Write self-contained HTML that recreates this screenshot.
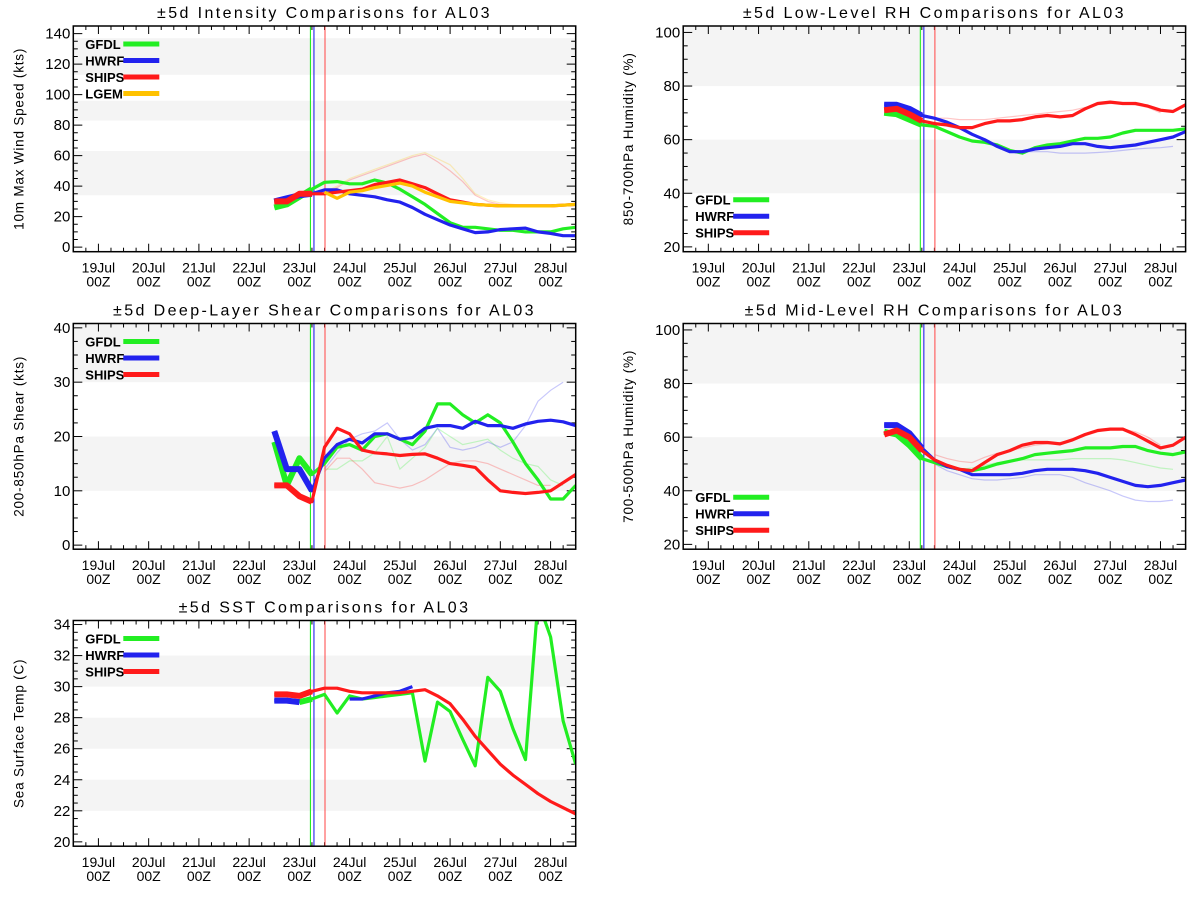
<!DOCTYPE html>
<html><head><meta charset="utf-8">
<style>
html,body{margin:0;padding:0;background:#fff;}
svg{display:block;font-family:"Liberation Sans","DejaVu Sans",sans-serif;}
</style></head>
<body>
<svg id="chart" width="1200" height="900" viewBox="0 0 1200 900" xmlns="http://www.w3.org/2000/svg"></svg>
<script>
// ---- shared data ----
const times = [3.5,3.75,4.0,4.25,4.5,4.75,5.0,5.25,5.5,5.75,6.0,6.25,6.5,6.75,7.0,7.25,7.5,7.75,8.0,8.25,8.5,8.75,9.0,9.25,9.5];
const dayLabels = ["19Jul","20Jul","21Jul","22Jul","23Jul","24Jul","25Jul","26Jul","27Jul","28Jul"];
const faintTimes = [4.5,4.75,5.0,5.25,5.5,5.75,6.0,6.25,6.5,6.75,7.0,7.25,7.5,7.75,8.0,8.25,8.5,8.75,9.0,9.25];
const markerGreen = 4.22, markerBlue = 4.29, markerRed = 4.51;

// ---- intensity ----
const intTicks = [0,20,40,60,80,100,120,140];
const intGFDL = [26,28,33,38,42.5,43,41.5,41.5,44,42,38,33,28,22,16,13,13,12,11,11,10,10,10,12,13];
const intHWRF = [30,32,34,35,37.5,37.5,35,34,33,31,29.5,26,21.5,18,14.5,12,9.5,10,11.5,12,12.5,10,9,7.5,7.5];
const intSHIPS = [30,30,35,35,35,36,37,38,41,42.5,44,41.5,39,35,31,29.5,28,27.5,27,27,27,27,27,27.5,28];
const intLGEM = [null,null,null,null,36,32,36,37,39,40.5,42,40,36,33,30,29,28,27.5,27,27,27,27,27,27.5,28];
const intFaintLGEM = [36,40,45,48,51,54,57,60,62,58,54,45,35,31,29,28,27,27,27,27];
const intFaintSHIPS = [35,39,44,47,50,53,56,59,61,56,50,43,34,30,28,27.5,27,27,27,27];

// ---- low-level RH ----
const rhTicks = [20,40,60,80,100];
const lowGFDL = [70,69.5,67.5,65.5,65,63,61,59.5,59,58,56,55,57,58,58.5,59.5,60.5,60.5,61,62.5,63.5,63.5,63.5,63.5,64];
const lowHWRF = [73,73,71.5,69,68,66.5,64.5,62,60,57.5,55.5,55.5,56.5,57,57.5,58.5,58.5,57.5,57,57.5,58,59,60,61,63];
const lowSHIPS = [71,71.5,69.5,67,66,65.5,64.5,64.5,66,67,67,67.5,68.5,69,68.5,69,71.5,73.5,74,73.5,73.5,72.5,71,70.5,73];
const lowFaintSHIPS = [68,68,67.5,67.5,67.5,68,68.5,69,69.5,70,70.5,71,72,73,73.5,73.5,73,72,70,null];
const lowFaintHWRF = [66,65,64,62,60,57.5,55.5,55.5,55.5,55.5,55,55,55,55.2,55.5,56,56.5,56.8,57,57.5];

// ---- shear ----
const shrTicks = [0,10,20,30,40];
const shrGFDL = [19,11,16,13,15,18,18.5,17.5,20,20.5,19.5,18.5,21,26,26,24,22.5,24,22.5,19,15,12,8.5,8.5,11];
const shrHWRF = [21,14,14,10,16,18.5,19.5,18.8,20.5,20.5,19.5,19.8,21.5,22,22,21.5,22.8,22,22,21.5,22.3,22.8,23,22.7,22];
const shrSHIPS = [11,11,9,8,18,21.5,20.5,17.5,17,16.8,16.5,16.7,16.8,16,15,14.7,14.3,12,10,9.7,9.5,9.7,10,11.5,13];
const shrFaintHWRF = [14,17,19.5,20.5,21,22.5,19.5,17.5,18.5,21.5,18,17.5,18,19,18,19,22,26.5,28.5,30];
const shrFaintGFDL = [14,14,15.5,15.5,17,20,14,16,18,21.5,20,18.5,19,19.5,17.5,16,15,14.5,12,11];
const shrFaintSHIPS = [13.5,16,16,14,11.5,11,10.5,11,12,13.5,15,15.5,15.5,15,14,13,12,11,11,null];

// ---- mid-level RH ----
const midGFDL = [62,61,57,52,50.5,49,48,47.5,48.5,50,51,52,53.5,54,54.5,55,56,56,56,56.5,56.5,55,54,53.5,54.5];
const midHWRF = [64.5,64.5,61.5,56,51.5,49,48,46,46,46,46,46.5,47.5,48,48,48,47.5,46.5,45,43.5,42,41.5,42,43,44];
const midSHIPS = [61,62.5,60,55,51.5,49.5,48,47.5,50.5,53.5,55,57,58,58,57.5,59,61,62.5,63,63,61,58.5,56,57,60];
const midFaintSHIPS = [53.5,52,51,50.5,52.5,54,55,56,57,57.5,58,59,60.5,62,63,63,62,60,57,null];
const midFaintGFDL = [51,49,48,48.5,49.5,50.5,51,51.5,51.5,51.5,51.5,52,52,52,52,51.5,50.5,49.5,48.5,48];
const midFaintHWRF = [50,47.5,46,44.5,44,44,44.5,45,46,46,46,45,43,41.5,40,38,36.5,36,36,36.5];

// ---- SST ----
const sstTicks = [20,22,24,26,28,30,32,34];
const sstGFDL = [null,null,29.0,29.2,29.5,28.3,29.4,29.2,29.3,29.4,29.5,29.6,25.2,29.0,28.4,26.6,24.9,30.6,29.7,27.3,25.3,35.5,33.2,27.8,25.0];
const sstHWRF = [29.1,29.1,29.0,null,null,null,29.2,29.2,29.4,29.6,29.7,30.0,null,null,null,null,null,null,null,null,null,null,null,null,null];
const sstSHIPS = [29.5,29.5,29.4,29.7,29.9,29.9,29.7,29.6,29.6,29.6,29.6,29.7,29.8,29.4,28.9,27.9,26.8,25.9,25.0,24.3,23.7,23.1,22.6,22.2,21.8];

const GREEN="#22ee22", BLUE="#2222ee", RED="#ff1a1a", ORANGE="#ffc200";
const NS="http://www.w3.org/2000/svg";
const svg=document.getElementById('chart');
function mk(tag,attrs,parent){const e=document.createElementNS(NS,tag);for(const k in attrs)e.setAttribute(k,attrs[k]);(parent||svg).appendChild(e);return e;}

const panels=[
 {id:'intensity',x:73.3,y:26,title:'±5d Intensity Comparisons for AL03',ylabel:'10m Max Wind Speed (kts)',ymin:-3,ymax:145,ticks:intTicks,minor:5,bands:[[34,63],[83,96],[113,137]],
  legendPos:'top',series:[['GFDL',GREEN,intGFDL],['HWRF',BLUE,intHWRF],['SHIPS',RED,intSHIPS],['LGEM',ORANGE,intLGEM]],
  faint:[[ORANGE,intFaintLGEM],[RED,intFaintSHIPS]]},
 {id:'low-rh',x:683.2,y:26,title:'±5d Low-Level RH Comparisons for AL03',ylabel:'850-700hPa Humidity (%)',ymin:18.2,ymax:102.4,ticks:rhTicks,minor:5,bands:[[40,60],[80,110]],
  legendPos:'bottom',series:[['GFDL',GREEN,lowGFDL],['HWRF',BLUE,lowHWRF],['SHIPS',RED,lowSHIPS]],
  faint:[[RED,lowFaintSHIPS],[BLUE,lowFaintHWRF]]},
 {id:'shear',x:73.3,y:323.5,title:'±5d Deep-Layer Shear Comparisons for AL03',ylabel:'200-850hPa Shear (kts)',ymin:-0.75,ymax:40.8,ticks:shrTicks,minor:2.5,bands:[[10,20],[30,50]],
  legendPos:'top',series:[['GFDL',GREEN,shrGFDL],['HWRF',BLUE,shrHWRF],['SHIPS',RED,shrSHIPS]],
  faint:[[BLUE,shrFaintHWRF],[GREEN,shrFaintGFDL],[RED,shrFaintSHIPS]]},
 {id:'mid-rh',x:683.2,y:323.5,title:'±5d Mid-Level RH Comparisons for AL03',ylabel:'700-500hPa Humidity (%)',ymin:18.2,ymax:102.4,ticks:rhTicks,minor:5,bands:[[40,60],[80,110]],
  legendPos:'bottom',series:[['GFDL',GREEN,midGFDL],['HWRF',BLUE,midHWRF],['SHIPS',RED,midSHIPS]],
  faint:[[RED,midFaintSHIPS],[GREEN,midFaintGFDL],[BLUE,midFaintHWRF]]},
 {id:'sst',x:73.3,y:620.5,title:'±5d SST Comparisons for AL03',ylabel:'Sea Surface Temp (C)',ymin:19.72,ymax:34.26,ticks:sstTicks,minor:0.5,bands:[[22,24],[26,28],[30,32]],
  legendPos:'top',series:[['GFDL',GREEN,sstGFDL],['HWRF',BLUE,sstHWRF],['SHIPS',RED,sstSHIPS]],faint:[]}
];
const W=502.4,H=225.7,TMIN=-0.5,TMAX=9.5;

function pathFrom(ts,vals,xs,ys,maxT){
  let d='',pen=false;
  for(let i=0;i<ts.length;i++){
    const v=vals[i];
    if(v===null||v===undefined||(maxT!==undefined&&ts[i]>maxT)){pen=false;continue;}
    d+=(pen?'L':'M')+xs(ts[i]).toFixed(1)+','+ys(v).toFixed(1);pen=true;
  }
  return d;
}

panels.forEach((p,pi)=>{
  const g=mk('g',{});
  
  
  const xs=t=>p.x+(t-TMIN)/(TMAX-TMIN)*W;
  const ys=v=>p.y+H-(v-p.ymin)/(p.ymax-p.ymin)*H;
  const clipId='clip'+pi;
  const cp=mk('clipPath',{id:clipId},g);
  mk('rect',{x:p.x,y:p.y,width:W,height:H},cp);
  p.bands.forEach(b=>{
    const y1=ys(Math.min(b[1],p.ymax)),y2=ys(Math.max(b[0],p.ymin));
    const r=mk('rect',{x:p.x,y:y1,width:W,height:y2-y1,fill:'#f4f4f4'},g);
    
    
  });
  const tt=mk('text',{x:p.x+W/2,y:p.y-8,'text-anchor':'middle','font-size':'16',fill:'#000','letter-spacing':'2.4'},g);
  tt.textContent=p.title;
  
  
  const lx=p.x-50,ly=p.y+H/2;
  const yl=mk('text',{x:lx,y:ly,'text-anchor':'middle','font-size':'13.5',transform:`rotate(-90 ${lx} ${ly})`,'letter-spacing':'0.8'},g);
  yl.textContent=p.ylabel;
  
  
  const step=p.minor;
  for(let v=Math.ceil(p.ymin/step)*step; v<=p.ymax+1e-6; v+=step){
    const major=p.ticks.some(t=>Math.abs(t-v)<1e-6);
    const L=major?9:4.5, y=ys(v);
    mk('line',{x1:p.x,x2:p.x+L,y1:y,y2:y,stroke:'#000','stroke-width':1},g);
    mk('line',{x1:p.x+W,x2:p.x+W-L,y1:y,y2:y,stroke:'#000','stroke-width':1},g);
  }
  p.ticks.forEach(v=>{
    const t=mk('text',{x:p.x-3,y:ys(v)+5,'text-anchor':'end','font-size':'15',fill:'#000'},g);
    t.textContent=String(v);
    
    
  });
  for(let k=-2;k<=38;k++){
    const t=k*0.25; if(t<TMIN||t>TMAX) continue;
    const major=(k%4===0), L=major?8:4, x=xs(t);
    mk('line',{x1:x,x2:x,y1:p.y+H,y2:p.y+H-L,stroke:'#000','stroke-width':1},g);
    mk('line',{x1:x,x2:x,y1:p.y,y2:p.y+L,stroke:'#000','stroke-width':1},g);
  }
  dayLabels.forEach((lab,i)=>{
    const x=xs(i);
    const a=mk('text',{x:x,y:p.y+H+21,'text-anchor':'middle','font-size':'14'},g);
    a.textContent=lab;
    
    
    const b=mk('text',{x:x,y:p.y+H+35,'text-anchor':'middle','font-size':'14'},g);
    b.textContent='00Z';
    
    
  });
  const cg=mk('g',{'clip-path':`url(#${clipId})`},g);
  p.faint.forEach(f=>{
    const fl=mk('path',{d:pathFrom(faintTimes,f[1],xs,ys),fill:'none',stroke:f[0],'stroke-width':1.2,'stroke-opacity':0.25},cg);
    
    
  });
  [[markerGreen,GREEN],[markerBlue,BLUE],[markerRed,'#ff5555']].forEach(m=>{
    const ml=mk('line',{x1:xs(m[0]),x2:xs(m[0]),y1:p.y,y2:p.y+H,stroke:m[1],'stroke-width':1.1},cg);
    
    
  });
  p.series.forEach(s=>{
    const sl=mk('path',{d:pathFrom(times,s[2],xs,ys),fill:'none',stroke:s[1],'stroke-width':3.2,'stroke-linejoin':'round'},cg);
    
    
    const th=mk('path',{d:pathFrom(times,s[2],xs,ys,4.25),fill:'none',stroke:s[1],'stroke-width':6,'stroke-linejoin':'round'},cg);
    
    
  });
  mk('rect',{x:p.x,y:p.y,width:W,height:H,fill:'none',stroke:'#000','stroke-width':1.5},g);
  const ly0 = p.legendPos==='top' ? p.y+18 : p.y+H-52;
  p.series.forEach((s,i)=>{
    const yy=ly0+i*16.5;
    const le=mk('g',{},g);
    
    
    const tx=mk('text',{x:p.x+12,y:yy+5,'font-size':'13',fill:'#000','font-weight':'bold'},le);
    tx.textContent=s[0];
    mk('line',{x1:p.x+50,x2:p.x+86,y1:yy,y2:yy,stroke:s[1],'stroke-width':5},le);
  });
});
</script>
</body></html>
